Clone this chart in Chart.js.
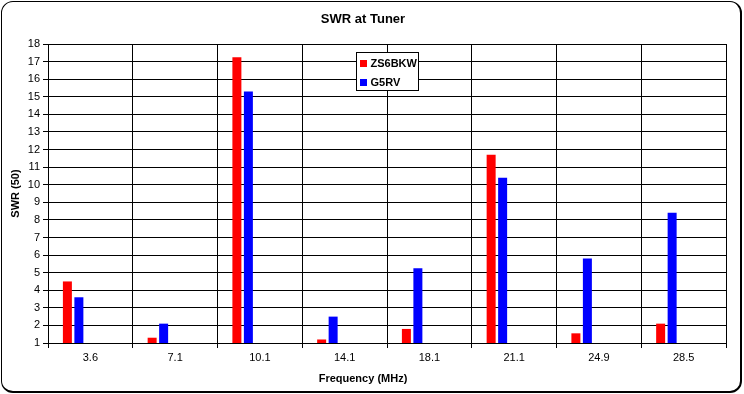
<!DOCTYPE html>
<html>
<head>
  <meta charset="utf-8" />
  <title>SWR at Tuner</title>
  <script src="https://cdn.jsdelivr.net/npm/chart.js@4"></script>
  <style>
    html, body { margin: 0; padding: 0; background: #fff; }
    .wrap { position: relative; width: 744px; height: 394px; }
    #swrChart { position: absolute; left: 0; top: 0; }
    .frame {
      position: absolute; left: 1px; top: 1px; width: 738px; height: 389px;
      border: 1px solid #000; border-right-width: 2px; border-bottom-width: 2px;
      border-radius: 12px; pointer-events: none;
    }
  </style>
</head>
<body>
  <div class="wrap">
    <canvas id="swrChart" width="744" height="394"></canvas>
    <div class="frame"></div>
  </div>

  <script>
    // frequencies (MHz) and SWR
    const frequencies = ['3.6', '7.1', '10.1', '14.1', '18.1', '21.1', '24.9', '28.5'];
    const zs6bkw = [4.5, 1.3, 17.25, 1.2, 1.8, 11.7, 1.55, 2.1];
    const g5rv = [3.6, 2.1, 15.3, 2.5, 5.25, 10.4, 5.8, 8.4];

    const FONT = '"Liberation Sans", Arial, sans-serif';
    Chart.defaults.font.family = FONT;
    Chart.defaults.font.size = 11;
    Chart.defaults.color = '#000';

    // legend box drawn inside the plot, like the Excel original
    const boxLegend = {
      id: 'boxLegend',
      afterDraw(chart) {
        const { ctx, chartArea } = chart;
        const items = chart.data.datasets.filter(d => d.label);
        const w = 62, h = 38;
        const x = Math.round((chartArea.left + chartArea.right) / 2 - w / 2) + 0.5;
        const y = Math.round(chartArea.top + 8) + 0.5;
        ctx.save();
        ctx.fillStyle = '#fff';
        ctx.fillRect(x, y, w, h);
        ctx.strokeStyle = '#000';
        ctx.lineWidth = 1;
        ctx.strokeRect(x, y, w, h);
        ctx.font = 'bold 11px ' + FONT;
        ctx.textBaseline = 'middle';
        items.forEach((d, i) => {
          const cy = Math.round(y + 10 + i * 19);
          ctx.fillStyle = d.backgroundColor;
          ctx.fillRect(Math.round(x + 3), cy - 3, 7, 7);
          ctx.fillStyle = '#000';
          ctx.fillText(d.label, x + 14, cy + 0.5);
        });
        ctx.restore();
      }
    };

    // empty series keep the bars on the left of each category
    const spacer = () => ({ label: '', data: [], backgroundColor: 'rgba(0,0,0,0)' });

    new Chart(document.getElementById('swrChart'), {
      type: 'bar',
      data: {
        labels: frequencies,
        datasets: [
          { label: 'ZS6BKW', data: zs6bkw, backgroundColor: '#ff0000' },
          { label: 'G5RV', data: g5rv, backgroundColor: '#0000ff' },
          spacer(), spacer(), spacer()
        ]
      },
      options: {
        responsive: false,
        animation: false,
        devicePixelRatio: 1,
        categoryPercentage: 0.678,
        barPercentage: 0.783,
        layout: { padding: { left: 0, right: 18, top: 0, bottom: 0 } },
        plugins: {
          legend: { display: false },
          tooltip: { enabled: false },
          title: {
            display: true,
            text: 'SWR at Tuner',
            font: { size: 13, weight: 'bold' },
            padding: { top: 12, bottom: 16.4 }
          },
          subtitle: {
            display: true,
            position: 'bottom',
            text: 'Frequency (MHz)',
            font: { size: 11, weight: 'bold' },
            padding: { top: 6.4, bottom: 8.4 }
          }
        },
        scales: {
          x: {
            grid: { color: '#000', lineWidth: 1, tickLength: 5, offset: true },
            border: { color: '#000' },
            ticks: { padding: 3, maxRotation: 0 },
            afterFit: s => { s.height = 23; }
          },
          y: {
            min: 1,
            max: 18,
            ticks: { stepSize: 1, padding: 3 },
            grid: { color: '#000', lineWidth: 1, tickLength: 5 },
            border: { color: '#000' },
            title: {
              display: true,
              text: 'SWR (50)',
              font: { size: 11, weight: 'bold' },
              padding: { top: 9, bottom: 0 }
            },
            afterFit: s => { s.width = 48; }
          }
        }
      },
      plugins: [boxLegend]
    });
  </script>
</body>
</html>
